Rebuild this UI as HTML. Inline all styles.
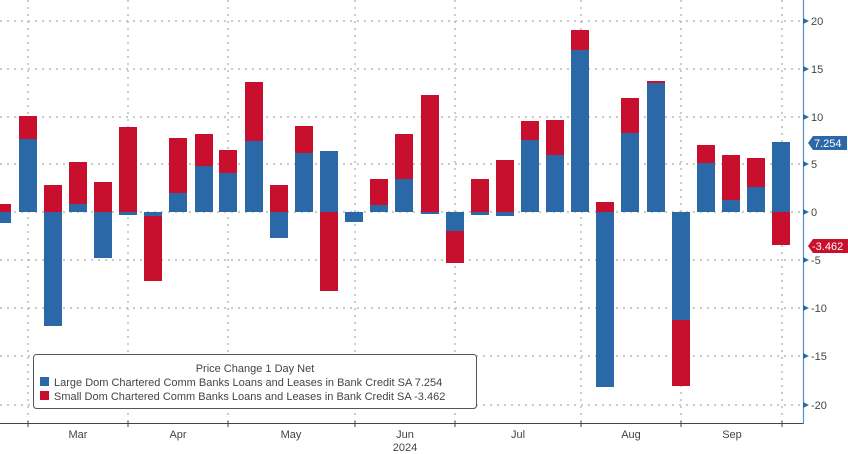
<!DOCTYPE html>
<html><head><style>
body{margin:0;background:#fff}
svg{display:block;font-family:"Liberation Sans",sans-serif}
</style></head><body>
<svg width="848" height="454" xmlns="http://www.w3.org/2000/svg">
<rect width="848" height="454" fill="#fff"/>
<g stroke="#aaa" stroke-width="1.2" stroke-dasharray="2,5">
<line x1="0" x2="803" y1="21" y2="21"/><line x1="0" x2="803" y1="69" y2="69"/>
<line x1="0" x2="803" y1="117" y2="117"/><line x1="0" x2="803" y1="164" y2="164"/>
<line x1="0" x2="803" y1="212" y2="212"/><line x1="0" x2="803" y1="260" y2="260"/>
<line x1="0" x2="803" y1="308" y2="308"/><line x1="0" x2="803" y1="356" y2="356"/>
<line x1="0" x2="803" y1="405" y2="405"/>
<line x1="28" x2="28" y1="0" y2="423"/><line x1="128" x2="128" y1="0" y2="423"/>
<line x1="228" x2="228" y1="0" y2="423"/><line x1="355" x2="355" y1="0" y2="423"/>
<line x1="455" x2="455" y1="0" y2="423"/><line x1="581" x2="581" y1="0" y2="423"/>
<line x1="681" x2="681" y1="0" y2="423"/><line x1="782" x2="782" y1="0" y2="423"/>
</g>
<g fill="#c8102e">
<rect x="0" y="204" width="11" height="8"/>
<rect x="19" y="116" width="18" height="23"/>
<rect x="44" y="185" width="18" height="27"/>
<rect x="69" y="162" width="18" height="42"/>
<rect x="94" y="182" width="18" height="30"/>
<rect x="119" y="127" width="18" height="85"/>
<rect x="144" y="216" width="18" height="65"/>
<rect x="169" y="138" width="18" height="55"/>
<rect x="195" y="134" width="18" height="32"/>
<rect x="219" y="150" width="18" height="23"/>
<rect x="245" y="82" width="18" height="59"/>
<rect x="270" y="185" width="18" height="27"/>
<rect x="295" y="126" width="18" height="27"/>
<rect x="320" y="212" width="18" height="79"/>
<rect x="370" y="179" width="18" height="26"/>
<rect x="395" y="134" width="18" height="45"/>
<rect x="421" y="95" width="18" height="117"/>
<rect x="446" y="231" width="18" height="32"/>
<rect x="471" y="179" width="18" height="33"/>
<rect x="496" y="160" width="18" height="52"/>
<rect x="521" y="121" width="18" height="19"/>
<rect x="546" y="120" width="18" height="35"/>
<rect x="571" y="30" width="18" height="20"/>
<rect x="596" y="202" width="18" height="10"/>
<rect x="621" y="98" width="18" height="35"/>
<rect x="647" y="81" width="18" height="2"/>
<rect x="672" y="320" width="18" height="66"/>
<rect x="697" y="145" width="18" height="18"/>
<rect x="722" y="155" width="18" height="45"/>
<rect x="747" y="158" width="18" height="29"/>
<rect x="772" y="212" width="18" height="33"/>
</g>
<g fill="#2b68a8">
<rect x="0" y="212" width="11" height="11"/>
<rect x="19" y="139" width="18" height="73"/>
<rect x="44" y="212" width="18" height="114"/>
<rect x="69" y="204" width="18" height="8"/>
<rect x="94" y="212" width="18" height="46"/>
<rect x="119" y="212" width="18" height="3"/>
<rect x="144" y="212" width="18" height="4"/>
<rect x="169" y="193" width="18" height="19"/>
<rect x="195" y="166" width="18" height="46"/>
<rect x="219" y="173" width="18" height="39"/>
<rect x="245" y="141" width="18" height="71"/>
<rect x="270" y="212" width="18" height="26"/>
<rect x="295" y="153" width="18" height="59"/>
<rect x="320" y="151" width="18" height="61"/>
<rect x="345" y="212" width="18" height="10"/>
<rect x="370" y="205" width="18" height="7"/>
<rect x="395" y="179" width="18" height="33"/>
<rect x="421" y="212" width="18" height="2"/>
<rect x="446" y="212" width="18" height="19"/>
<rect x="471" y="212" width="18" height="3"/>
<rect x="496" y="212" width="18" height="4"/>
<rect x="521" y="140" width="18" height="72"/>
<rect x="546" y="155" width="18" height="57"/>
<rect x="571" y="50" width="18" height="162"/>
<rect x="596" y="212" width="18" height="175"/>
<rect x="621" y="133" width="18" height="79"/>
<rect x="647" y="83" width="18" height="129"/>
<rect x="672" y="212" width="18" height="108"/>
<rect x="697" y="163" width="18" height="49"/>
<rect x="722" y="200" width="18" height="12"/>
<rect x="747" y="187" width="18" height="25"/>
<rect x="772" y="142" width="18" height="70"/>
</g>
<line x1="0" x2="803" y1="423.5" y2="423.5" stroke="#444" stroke-width="1"/>
<line x1="803.5" x2="803.5" y1="0" y2="424" stroke="#5b8ec9" stroke-width="1.2"/>
<g stroke="#444"><line x1="28" x2="28" y1="421" y2="427"/><line x1="128" x2="128" y1="421" y2="427"/><line x1="228" x2="228" y1="421" y2="427"/><line x1="355" x2="355" y1="421" y2="427"/><line x1="455" x2="455" y1="421" y2="427"/><line x1="581" x2="581" y1="421" y2="427"/><line x1="681" x2="681" y1="421" y2="427"/><line x1="782" x2="782" y1="421" y2="427"/></g>
<g fill="#2b68a8">
<path d="M803 18l6 3-6 3z"/><path d="M803 66l6 3-6 3z"/><path d="M803 114l6 3-6 3z"/><path d="M803 161l6 3-6 3z"/><path d="M803 209l6 3-6 3z"/><path d="M803 257l6 3-6 3z"/><path d="M803 305l6 3-6 3z"/><path d="M803 353l6 3-6 3z"/><path d="M803 402l6 3-6 3z"/>
</g>
<g font-size="11" fill="#444">
<text x="811" y="25">20</text><text x="811" y="73">15</text><text x="811" y="121">10</text><text x="811" y="168">5</text><text x="811" y="216">0</text>
<text x="811" y="264">-5</text><text x="811" y="312">-10</text><text x="811" y="360">-15</text><text x="811" y="409">-20</text>
</g>
<path d="M813 136h34v14h-34l-5-7z" fill="#2b68a8"/>
<text x="814" y="147" font-size="11" fill="#fff">7.254</text>
<path d="M813 239h35v14h-35l-5-7z" fill="#c8102e"/>
<text x="812" y="250" font-size="11" fill="#fff">-3.462</text>
<g font-size="11" fill="#444" text-anchor="middle">
<text x="78" y="438">Mar</text><text x="178" y="438">Apr</text><text x="291" y="438">May</text><text x="405" y="438">Jun</text><text x="405" y="451">2024</text>
<text x="518" y="438">Jul</text><text x="631" y="438">Aug</text><text x="732" y="438">Sep</text>
</g>
<rect x="33.5" y="354.5" width="443" height="54" rx="3" fill="#fff" stroke="#555" stroke-width="1"/>
<text x="255" y="372" font-size="11" fill="#444" text-anchor="middle">Price Change 1 Day Net</text>
<rect x="40" y="377" width="9" height="9" fill="#2b68a8"/>
<text x="54" y="386" font-size="11" fill="#444">Large Dom Chartered Comm Banks Loans and Leases in Bank Credit SA 7.254</text>
<rect x="40" y="391" width="9" height="9" fill="#c8102e"/>
<text x="54" y="400" font-size="11" fill="#444">Small Dom Chartered Comm Banks Loans and Leases in Bank Credit SA -3.462</text>
</svg>
</body></html>
